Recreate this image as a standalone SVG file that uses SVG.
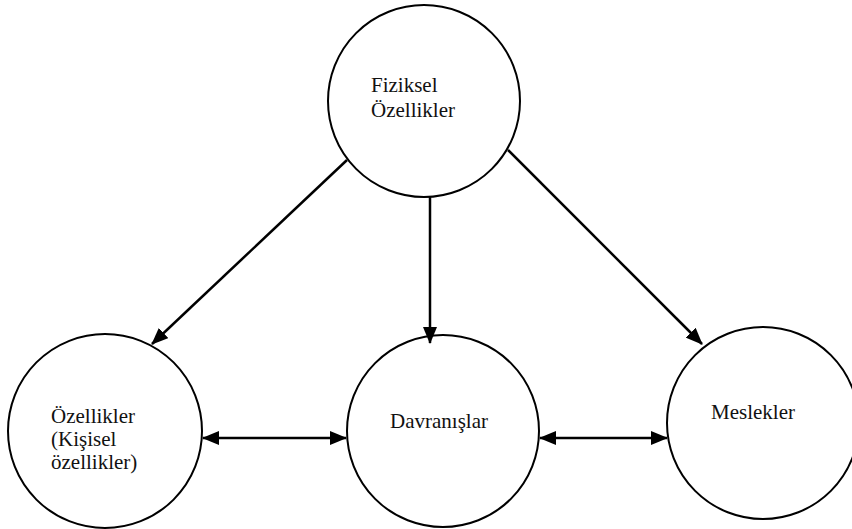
<svg xmlns="http://www.w3.org/2000/svg" width="852" height="529" viewBox="0 0 852 529">
<style>
.node circle{fill:#fff;stroke:#000;stroke-width:2}
.node text{font-family:'Liberation Serif','DejaVu Serif',serif;font-size:21px;fill:#111}
.conn line{stroke:#000;stroke-width:2.5}
</style>
<defs>
<marker id="ah" viewBox="0 0 17 14" refX="16" refY="7" markerWidth="17" markerHeight="14" markerUnits="userSpaceOnUse" orient="auto-start-reverse">
<path d="M0,0 L17,7 L0,14 z" fill="#000"/>
</marker>
</defs>
<rect width="852" height="529" fill="#fff"/>
<g id="n-fiziksel" class="node" font-family="Liberation Serif, serif">
<circle cx="424" cy="101" r="96"/>
<text x="371" y="92">Fiziksel</text>
<text x="371" y="117">Özellikler</text>
</g>
<g id="n-ozellikler" class="node" font-family="Liberation Serif, serif">
<circle cx="105" cy="431" r="97"/>
<text x="51" y="423">Özellikler</text>
<text x="51" y="446">(Kişisel</text>
<text x="51" y="469">özellikler)</text>
</g>
<g id="n-davranislar" class="node" font-family="Liberation Serif, serif">
<circle cx="443" cy="431" r="96"/>
<text x="390" y="428">Davranışlar</text>
</g>
<g id="n-meslekler" class="node" font-family="Liberation Serif, serif">
<circle cx="763" cy="423" r="96"/>
<text x="711" y="419">Meslekler</text>
</g>
<g id="connectors" class="conn">
<line x1="347" y1="160" x2="152" y2="344" marker-end="url(#ah)"/>
<line x1="430" y1="197" x2="430" y2="343" marker-end="url(#ah)"/>
<line x1="508" y1="150" x2="702" y2="344" marker-end="url(#ah)"/>
<line x1="203" y1="438" x2="346" y2="438" marker-start="url(#ah)" marker-end="url(#ah)"/>
<line x1="540" y1="438" x2="667" y2="438" marker-start="url(#ah)" marker-end="url(#ah)"/>
</g>
</svg>
